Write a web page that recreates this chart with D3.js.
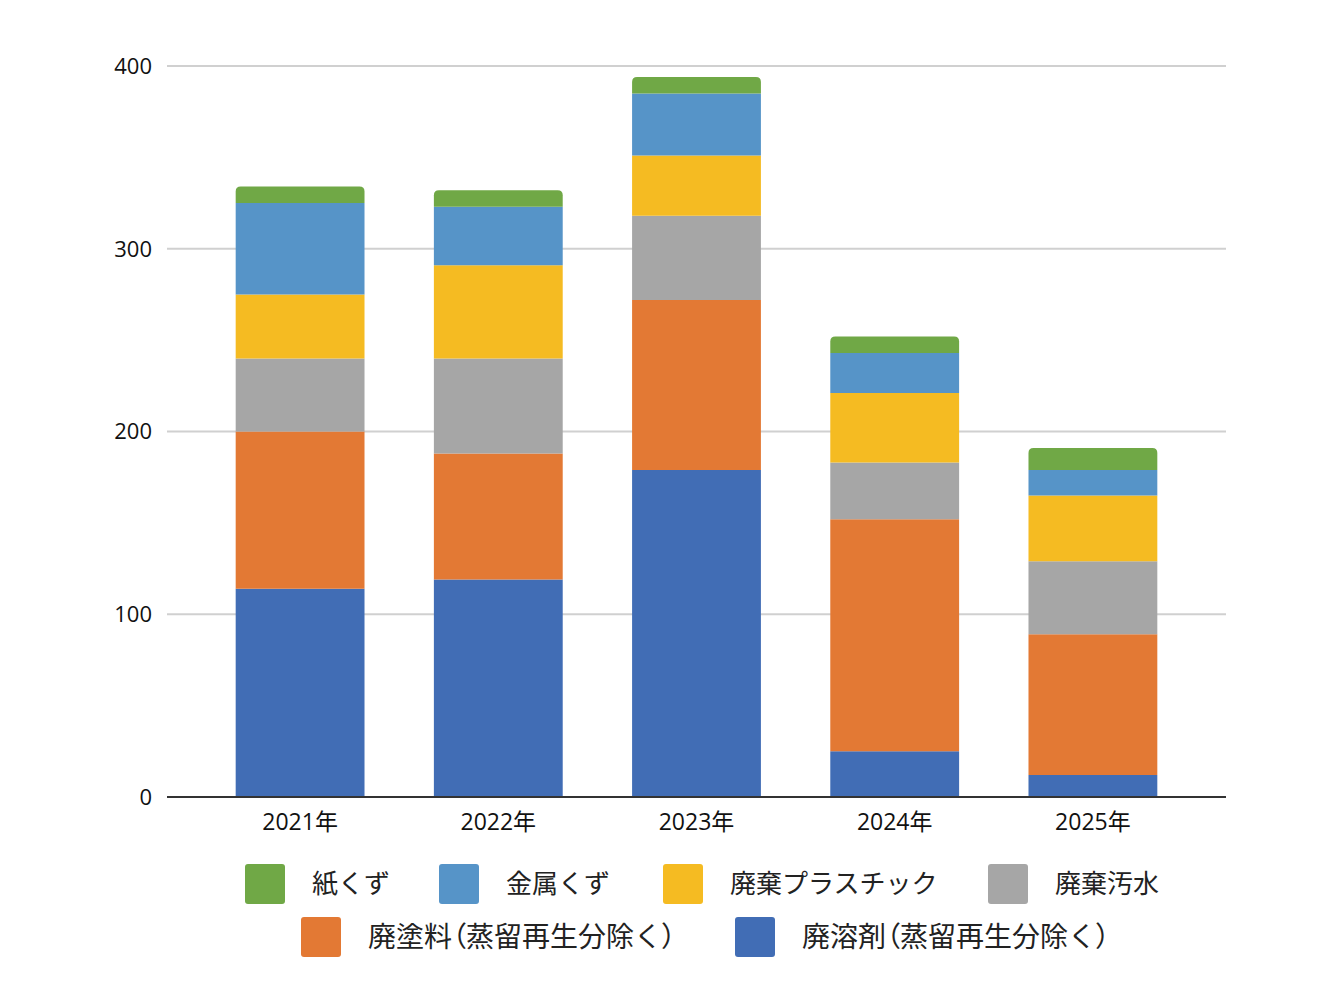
<!DOCTYPE html>
<html><head><meta charset="utf-8">
<script src="https://cdn.jsdelivr.net/npm/d3@7/dist/d3.min.js"></script>
<style>body{margin:0;background:#fff;} text{font-family:"Noto Sans CJK JP","Noto Sans",sans-serif;}
.num{font-family:"Open Sans","Noto Sans CJK JP",sans-serif;}
.palt{font-feature-settings:"palt";}</style>
</head><body><svg id="c" width="1327" height="982"></svg>
<script>
const years = ["2021年","2022年","2023年","2024年","2025年"];
const seriesNames = ["廃溶剤（蒸留再生分除く）","廃塗料（蒸留再生分除く）","廃棄汚水","廃棄プラスチック","金属くず","紙くず"];
const seriesColors = ["#416db5","#e37934","#a6a6a6","#f5bb22","#5694c8","#70a846"];
const 廃溶剤 = [114,119,179,25,12];
const 廃塗料 = [86,69,93,127,77];
const 廃棄汚水 = [40,52,46,31,40];
const 廃棄プラスチック = [35,51,33,38,36];
const 金属くず = [50,32,34,22,14];
const 紙くず = [9,9,9,9,12];
const yTicks = [0,100,200,300,400];
const legendRow1 = ["紙くず","金属くず","廃棄プラスチック","廃棄汚水"];
const legendRow2 = ["廃塗料（蒸留再生分除く）","廃溶剤（蒸留再生分除く）"];

const seriesValues = [廃溶剤,廃塗料,廃棄汚水,廃棄プラスチック,金属くず,紙くず];
const table = years.map((y,i)=>{const o={year:y}; seriesNames.forEach((s,k)=>o[s]=seriesValues[k][i]); return o;});
const stack = d3.stack().keys(seriesNames)(table);

const svg = d3.select("#c");
const x = d3.scaleBand().domain(years).range([201,1192]).paddingInner(0.35).paddingOuter(0.175);
const y = d3.scaleLinear().domain([0,400]).range([797,66]);
const color = d3.scaleOrdinal().domain(seriesNames).range(seriesColors);

svg.append("g").selectAll("line").data(yTicks.filter(t=>t>0)).join("line")
  .attr("x1",167).attr("x2",1226).attr("y1",d=>y(d)).attr("y2",d=>y(d))
  .attr("stroke","#d0d0d0").attr("stroke-width",2);

svg.append("g").selectAll("text").data(yTicks).join("text").attr("class","num")
  .attr("x",152).attr("y",d=>y(d)).attr("dy","0.36em").attr("text-anchor","end")
  .attr("font-size",22).attr("fill","#111").text(d=>d);

function topRounded(x0,y0,w,h,r){
  r=Math.min(r,h,w/2);
  return `M${x0},${y0+h}V${y0+r}Q${x0},${y0} ${x0+r},${y0}H${x0+w-r}Q${x0+w},${y0} ${x0+w},${y0+r}V${y0+h}Z`;
}
const last = seriesNames.length-1;
stack.forEach((layer,k)=>{
  svg.append("g").selectAll("path").data(layer).join("path")
    .attr("fill",color(layer.key))
    .attr("d",d=>{
      const x0=x(d.data.year), w=x.bandwidth(), yt=y(d[1]), h=y(d[0])-y(d[1]);
      return k===last ? topRounded(x0,yt,w,h,5) : `M${x0},${yt}h${w}v${h}h${-w}Z`;
    });
});

svg.append("line").attr("x1",167).attr("x2",1226).attr("y1",y(0)).attr("y2",y(0))
  .attr("stroke","#333").attr("stroke-width",2);
svg.append("g").selectAll("text").data(years).join("text").attr("class","num")
  .attr("x",d=>x(d)+x.bandwidth()/2).attr("y",822).attr("dy","0.36em").attr("text-anchor","middle")
  .attr("font-size",23).attr("fill","#111").text(d=>d);

const row1X=[245,439,663,988], row2X=[301,735];
function legendItem(name,lx,cy,fs){
  const g=svg.append("g");
  g.append("rect").attr("x",lx).attr("y",cy-20).attr("width",40).attr("height",40).attr("rx",3)
    .attr("fill",color(name));
  const t=g.append("text").attr("x",lx+67).attr("y",cy).attr("dy","0.35em").attr("font-size",fs)
    .attr("fill","#222");
  name.split(/([（）])/).filter(s=>s.length).forEach(s=>{
    const ts=t.append("tspan").text(s);
    if(s==="（"||s==="）") ts.attr("class","palt");
  });
}
legendRow1.forEach((n,i)=>legendItem(n,row1X[i],884,26));
legendRow2.forEach((n,i)=>legendItem(n,row2X[i],937,28));
</script></body></html>
